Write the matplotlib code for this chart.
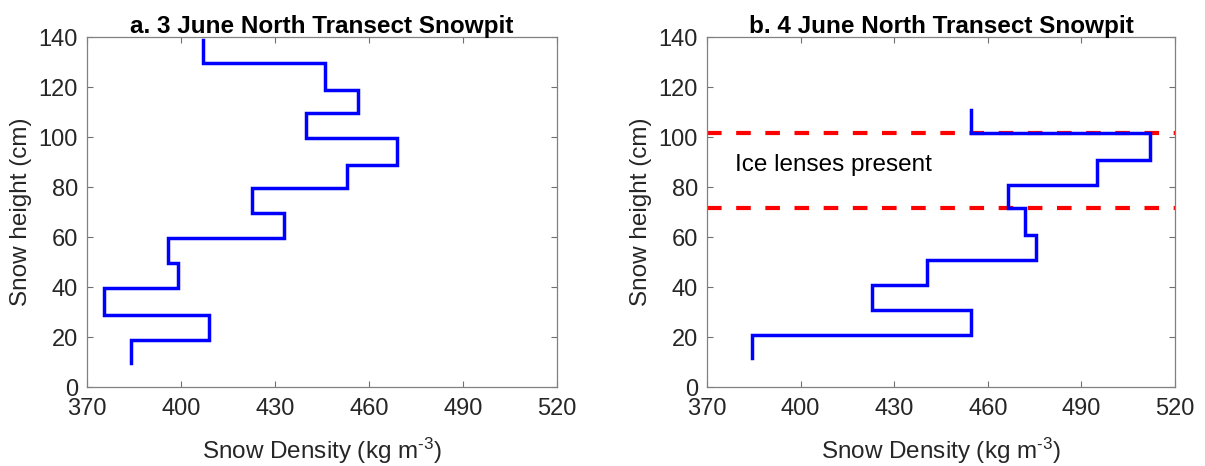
import matplotlib
matplotlib.use("Agg")
import matplotlib.pyplot as plt

plt.rcParams['font.family'] = ['Liberation Sans', 'DejaVu Sans']
plt.rcParams['mathtext.fontset'] = 'custom'
plt.rcParams['mathtext.rm'] = 'Liberation Sans'
plt.rcParams['mathtext.it'] = 'Liberation Sans:italic'

# Layer boundaries (cm) and densities (kg m^-3), bottom to top
edges_a = [9.5, 19, 29, 39.5, 49.5, 59.5, 69.5, 79.5, 89, 99.5, 109.5, 119, 129.5, 139]
dens_a = [384, 409, 375.5, 399, 396, 433, 422.5, 453, 469, 440, 456.5, 446, 407]

edges_b = [11.5, 21, 31, 41, 51, 61, 71.5, 81, 91, 101.5, 111]
dens_b = [384.5, 454.5, 423, 440.5, 475.5, 472, 466.5, 495, 512, 454.5]

ice_lens_bounds = [101.5, 71.5]

x_ticks = [370, 400, 430, 460, 490, 520]
y_ticks = [0, 20, 40, 60, 80, 100, 120, 140]
titles = ["a. 3 June North Transect Snowpit", "b. 4 June North Transect Snowpit"]

FS = 17.5


def step_profile(edges, dens):
    xs, ys = [], []
    for i, d in enumerate(dens):
        xs += [d, d]
        ys += [edges[i], edges[i + 1]]
    return xs, ys


fig = plt.figure(figsize=(12.05, 4.66), dpi=100)
ax_a = fig.add_axes([87 / 1205, 1 - 387 / 466, 470 / 1205, 350 / 466])
ax_b = fig.add_axes([707 / 1205, 1 - 387 / 466, 468 / 1205, 350 / 466])

for ax, edges, dens, title in [(ax_a, edges_a, dens_a, titles[0]),
                               (ax_b, edges_b, dens_b, titles[1])]:
    xs, ys = step_profile(edges, dens)
    ax.plot(xs, ys, color='#0000ff', lw=2.5, solid_joinstyle='miter', zorder=3)
    ax.set_xlim(370, 520)
    ax.set_ylim(0, 140)
    ax.set_xticks(x_ticks)
    ax.set_yticks(y_ticks)
    ax.tick_params(direction='in', length=4, width=0.8, top=True, right=True,
                   labelsize=17, colors='#707070', labelcolor='#262626')
    ax.tick_params(axis='x', pad=8)
    ax.tick_params(axis='y', pad=6.5)
    for sp in ax.spines.values():
        sp.set_color('#808080')
        sp.set_linewidth(0.9)
    ax.set_title(title, fontsize=FS, fontweight='bold', pad=3)
    ax.set_xlabel(r'Snow Density (kg m$^{\text{-3}}$)', fontsize=FS, color='#262626', labelpad=11)
    ax.set_ylabel('Snow height (cm)', fontsize=FS, color='#262626', labelpad=5)

for yb in ice_lens_bounds:
    ax_b.axhline(yb, color='#ff0000', lw=3, ls=(0, (3.5, 3.5)), zorder=2)
ax_b.text(379, 89, 'Ice lenses present', fontsize=FS, color='black', va='center', ha='left')

fig.savefig('out.png', dpi=100)
